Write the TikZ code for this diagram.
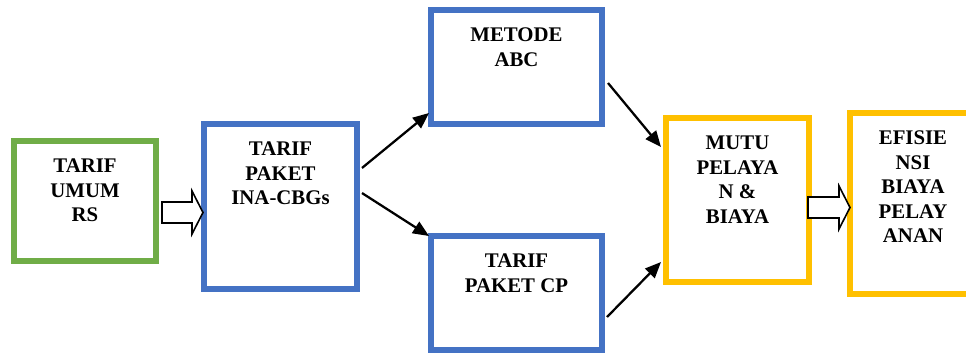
\documentclass[tikz,border=0pt]{standalone}
\usepackage{fontspec}
\setmainfont{Liberation Serif}
\usetikzlibrary{fit,arrows.meta,calc}
\definecolor{cgreen}{HTML}{70AD47}
\definecolor{cblue}{HTML}{4472C4}
\definecolor{cyellow}{HTML}{FFC000}
\begin{document}
\begin{tikzpicture}[x=0.75pt,y=-0.75pt,
  box/.style={draw, line width=4.5pt, inner sep=0pt, fill=white},
  txt/.style={font=\fontsize{15.6pt}{18.4pt}\selectfont\bfseries, align=center, inner sep=0pt, anchor=north},
  arr/.style={line width=1.7pt, -{Triangle[length=12pt,width=10pt]}},
  blk/.style={draw=black, line width=1.2pt, fill=white, line join=miter}]
\useasboundingbox (0,0) rectangle (966,354);
\clip (0,0) rectangle (966,354);

% boxes
\node[box, draw=cgreen,  fit={(14,141) (156,261)}] (g) {};
\node[box, draw=cblue,   fit={(204,124) (357,289)}] (b1) {};
\node[box, draw=cblue,   fit={(431,10) (602,124)}] (abc) {};
\node[box, draw=cblue,   fit={(431,236) (602,350)}] (cp) {};
\node[box, draw=cyellow, fit={(666,118) (809,282)}] (mutu) {};
\node[box, draw=cyellow, fit={(850,113) (976,294)}] (ef) {};

% texts
\node[txt] (tg)   at ([yshift=-15.5pt]g.north)    {TARIF\\UMUM\\RS};
\node[txt] (tb1)  at ([yshift=-15.5pt]b1.north)   {TARIF\\PAKET\\INA-CBGs};
\node[txt] (tabc) at ([yshift=-15.5pt]abc.north)  {METODE\\ABC};
\node[txt] (tcp)  at ([yshift=-15.5pt]cp.north)   {TARIF\\PAKET CP};
\node[txt] (tm)   at ([yshift=-15.5pt]mutu.north) {MUTU\\PELAYA\\N \&\\BIAYA};
\node[txt] (te)   at ([yshift=-15.5pt]ef.north)   {EFISIE\\NSI\\BIAYA\\PELAY\\ANAN};

% block arrows
\draw[blk] (162,202) -- (192,202) -- (192,191) -- (203,212.5) -- (192,234) -- (192,223) -- (162,223) -- cycle;
\draw[blk] (808,197) -- (839,197) -- (839,186) -- (850,207.5) -- (839,229) -- (839,218) -- (808,218) -- cycle;

% arrows
\draw[arr] ([xshift=1.5pt,yshift=28.9pt]b1.east) -- ([xshift=0.75pt,yshift=-34.5pt]abc.west);
\draw[arr] ([xshift=1.5pt,yshift=10.1pt]b1.east) -- ([xshift=0.75pt,yshift=-2.25pt]cp.north west);
\draw[arr] ([xshift=2.25pt,yshift=-12pt]abc.east) -- ([xshift=-1.5pt,yshift=39.75pt]mutu.west);
\draw[arr] ([xshift=1.5pt,yshift=-18pt]cp.east) -- ([xshift=-1.5pt,yshift=-46.5pt]mutu.west);
\end{tikzpicture}
\end{document}
